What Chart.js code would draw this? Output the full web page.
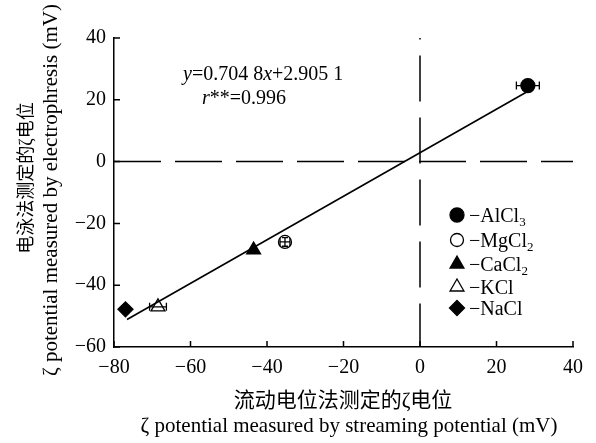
<!DOCTYPE html>
<html>
<head>
<meta charset="utf-8">
<script src="https://cdn.jsdelivr.net/npm/chart.js@4.4.1/dist/chart.umd.min.js"></script>
<style>
  html, body { margin: 0; padding: 0; background: #fff; }
  #wrap { width: 596px; height: 443px; }
</style>
</head>
<body>
<div id="wrap"><canvas id="grafico" width="596" height="443"></canvas></div>
<script>
// salts (legend order) and their measured points
const salts = ['AlCl', 'MgCl', 'CaCl', 'KCl', 'NaCl'];
const saltSub = ['3', '2', '2', '', ''];
const streamX = [28.2, -35.3, -43.5, -68.5, -77.0];
const electroY = [24.6, -26.0, -28.6, -47.0, -47.8];
const errX = [3.0, 1.3, 0, 2.2, 0];
const errY = [0, 1.4, 0, 0, 0];
const shapes = ['circle', 'circle', 'triangle', 'triangle', 'rectRot'];
const filled = [true, false, true, false, true];
const sizes = [7, 6.5, 8, 8, 7.5];

// regression line endpoints, y = 0.7048x + 2.9051
const fitX = [-76.6, 28.0];
const fitY = [-51.1, 22.6];

const xTicks = [-80, -60, -40, -20, 0, 20, 40];
const yTicks = [-60, -40, -20, 0, 20, 40];

const xTitle = ['流动电位法测定的ζ电位', 'ζ potential measured by streaming potential (mV)'];
const yTitle = ['电泳法测定的ζ电位', 'ζ potential measured by electrophresis (mV)'];

const serif = "'Liberation Serif', 'Noto Sans CJK SC', serif";
const fmt = v => (v < 0 ? '\u2212' + Math.abs(v) : '' + v);

const datasets = salts.map((s, i) => ({
    label: s,
    data: [{ x: streamX[i], y: electroY[i] }],
    pointStyle: shapes[i],
    pointRadius: sizes[i],
    pointBackgroundColor: filled[i] ? '#000' : '#fff',
    pointBorderColor: '#000',
    pointBorderWidth: 1.3,
    showLine: false
}));
datasets.unshift({
    label: 'fit',
    data: fitX.map((x, i) => ({ x: x, y: fitY[i] })),
    showLine: true,
    borderColor: '#000',
    borderWidth: 1.6,
    pointRadius: 0
});

const extras = {
    id: 'extras',
    beforeDatasetsDraw(chart) {
        const c = chart.ctx, xs = chart.scales.x, ys = chart.scales.y;
        const a = chart.chartArea;
        c.save();
        c.strokeStyle = '#000';
        c.lineWidth = 1.5;
        // dashed zero line
        c.setLineDash([47, 14]);
        c.beginPath();
        c.moveTo(a.left, ys.getPixelForValue(0));
        c.lineTo(a.right, ys.getPixelForValue(0));
        c.stroke();
        // vertical line at x = 0, starts with a dot
        c.setLineDash([46, 16]);
        c.lineDashOffset = 44.5;
        c.beginPath();
        c.moveTo(xs.getPixelForValue(0), a.top);
        c.lineTo(xs.getPixelForValue(0), a.bottom);
        c.stroke();
        c.restore();
    },
    afterDatasetsDraw(chart) {
        const c = chart.ctx, xs = chart.scales.x, ys = chart.scales.y;
        const a = chart.chartArea;
        c.save();
        c.strokeStyle = '#000';
        c.lineWidth = 1.3;
        // error bars
        salts.forEach((s, i) => {
            const px = xs.getPixelForValue(streamX[i]);
            const py = ys.getPixelForValue(electroY[i]);
            if (errX[i]) {
                const l = xs.getPixelForValue(streamX[i] - errX[i]);
                const r = xs.getPixelForValue(streamX[i] + errX[i]);
                c.beginPath();
                c.moveTo(l, py); c.lineTo(r, py);
                c.moveTo(l, py - 4); c.lineTo(l, py + 4);
                c.moveTo(r, py - 4); c.lineTo(r, py + 4);
                c.stroke();
            }
            if (errY[i]) {
                const t = ys.getPixelForValue(electroY[i] + errY[i]);
                const b = ys.getPixelForValue(electroY[i] - errY[i]);
                c.beginPath();
                c.moveTo(px, t); c.lineTo(px, b);
                c.moveTo(px - 3, t); c.lineTo(px + 3, t);
                c.moveTo(px - 3, b); c.lineTo(px + 3, b);
                c.stroke();
            }
        });
        // inward ticks
        c.lineWidth = 1.5;
        c.beginPath();
        xTicks.forEach(v => {
            const p = xs.getPixelForValue(v);
            c.moveTo(p, a.bottom); c.lineTo(p, a.bottom - 6);
        });
        yTicks.forEach(v => {
            const p = ys.getPixelForValue(v);
            c.moveTo(a.left, p); c.lineTo(a.left + 6, p);
        });
        c.stroke();

        // equation
        c.fillStyle = '#000';
        c.textBaseline = 'alphabetic';
        let x = 183;
        [['y', true], ['=0.704 8', false], ['x', true], ['+2.905 1', false]].forEach(p => {
            c.font = (p[1] ? 'italic ' : '') + '20px ' + serif;
            c.fillText(p[0], x, 80);
            x += c.measureText(p[0]).width;
        });
        x = 202;
        [['r', true], ['**=0.996', false]].forEach(p => {
            c.font = (p[1] ? 'italic ' : '') + '20px ' + serif;
            c.fillText(p[0], x, 104);
            x += c.measureText(p[0]).width;
        });

        // legend
        const lx = 457, rows = [215, 240, 264, 287, 308];
        salts.forEach((s, i) => {
            c.save();
            c.fillStyle = filled[i] ? '#000' : '#fff';
            c.strokeStyle = '#000';
            c.lineWidth = 1.3;
            Chart.helpers.drawPoint(c, { pointStyle: shapes[i], radius: sizes[i], borderWidth: 1.3 }, lx, rows[i]);
            c.restore();
            c.fillStyle = '#000';
            c.font = '20px ' + serif;
            let tx = lx + 12;
            c.fillText('\u2212' + s, tx, rows[i] + 7);
            tx += c.measureText('\u2212' + s).width;
            if (saltSub[i]) {
                c.font = '13px ' + serif;
                c.fillText(saltSub[i], tx, rows[i] + 11);
            }
        });

        // axis titles
        c.textAlign = 'center';
        c.textBaseline = 'middle';
        c.font = '21px ' + serif;
        c.fillText(xTitle[0], 343, 401);
        c.textBaseline = 'alphabetic';
        c.fillText(xTitle[1], 349, 432);

        c.save();
        c.translate(27, 178);
        c.rotate(-Math.PI / 2);
        c.textBaseline = 'middle';
        c.font = '18px ' + serif;
        c.fillText(yTitle[0], 0, 0);
        c.restore();
        c.save();
        c.translate(57, 190);
        c.rotate(-Math.PI / 2);
        c.textBaseline = 'alphabetic';
        c.font = '21px ' + serif;
        c.fillText(yTitle[1], 0, 0);
        c.restore();
        c.restore();
    }
};

new Chart(document.getElementById('grafico').getContext('2d'), {
    type: 'scatter',
    data: { datasets: datasets },
    options: {
        responsive: false,
        animation: false,
        layout: { padding: { left: 0, right: 23, top: 38, bottom: 0 } },
        plugins: { legend: { display: false }, tooltip: { enabled: false } },
        scales: {
            x: {
                min: -80, max: 40,
                afterBuildTicks: s => { s.ticks = xTicks.map(v => ({ value: v })); },
                afterFit: s => { s.height = 96; },
                grid: { drawOnChartArea: false, drawTicks: false },
                border: { display: true, color: '#000', width: 1.5 },
                ticks: { color: '#000', padding: 9, font: { family: serif, size: 20 }, callback: v => fmt(v) }
            },
            y: {
                min: -60, max: 40,
                afterBuildTicks: s => { s.ticks = yTicks.map(v => ({ value: v })); },
                afterFit: s => { s.width = 114; },
                grid: { drawOnChartArea: false, drawTicks: false },
                border: { display: true, color: '#000', width: 1.5 },
                ticks: { color: '#000', padding: 8, font: { family: serif, size: 20 }, callback: v => fmt(v) }
            }
        }
    },
    plugins: [extras]
});
</script>
</body>
</html>
